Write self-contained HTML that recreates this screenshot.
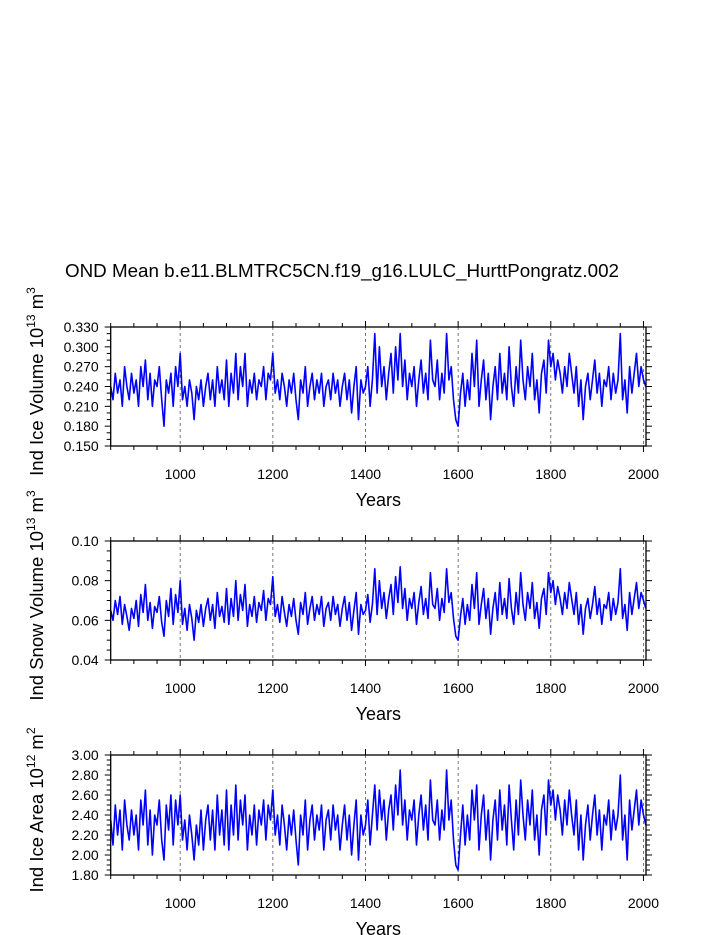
<!DOCTYPE html>
<html><head><meta charset="utf-8">
<style>
html,body{margin:0;padding:0;background:#fff;}
svg{display:block;font-family:"Liberation Sans",sans-serif;}
</style></head>
<body>
<svg id="chart" width="723" height="935" viewBox="0 0 723 935" xmlns="http://www.w3.org/2000/svg">
<text x="342" y="277" font-size="18.8" text-anchor="middle">OND Mean b.e11.BLMTRC5CN.f19_g16.LULC_HurttPongratz.002</text>
</svg>
<script>
const startYear = 850;
const stepYears = 5;
const xTickLabels = [1000, 1200, 1400, 1600, 1800, 2000];
const iceVolume = [.24,.22,.26,.23,.25,.21,.27,.24,.22,.26,
.23,.25,.21,.27,.24,.28,.22,.26,.21,.25,
.24,.27,.22,.18,.25,.23,.26,.21,.27,.24,
.29,.22,.24,.21,.25,.23,.19,.24,.22,.25,
.21,.24,.26,.22,.25,.21,.27,.23,.25,.22,
.28,.21,.26,.23,.29,.22,.27,.24,.29,.21,
.25,.23,.26,.22,.25,.24,.27,.22,.26,.25,
.29,.23,.25,.22,.26,.24,.21,.25,.23,.26,
.22,.19,.25,.23,.27,.21,.24,.26,.22,.25,
.23,.26,.21,.24,.25,.22,.26,.23,.25,.21,
.24,.26,.22,.25,.20,.24,.27,.19,.25,.23,
.24,.27,.21,.25,.32,.23,.30,.24,.27,.22,
.26,.29,.23,.30,.25,.32,.24,.28,.22,.26,
.24,.27,.21,.25,.28,.23,.26,.22,.31,.25,
.24,.28,.22,.26,.23,.32,.25,.27,.22,.19,
.18,.23,.26,.21,.25,.22,.29,.24,.31,.21,
.25,.28,.22,.26,.19,.24,.27,.22,.29,.23,
.26,.22,.30,.24,.21,.27,.23,.31,.25,.22,
.27,.24,.29,.22,.25,.20,.26,.28,.23,.31,
.27,.29,.25,.28,.26,.23,.27,.24,.29,.26,
.23,.27,.21,.25,.19,.24,.26,.22,.25,.28,
.23,.26,.21,.25,.24,.27,.22,.26,.23,.25,
.32,.22,.25,.20,.27,.23,.26,.29,.24,.27,
.25,.24];
const snowVolume = [.065,.060,.070,.063,.072,.058,.068,.062,.055,.066,
.061,.070,.057,.073,.064,.078,.060,.069,.056,.067,
.064,.072,.059,.052,.070,.062,.076,.058,.073,.064,
.080,.058,.066,.055,.068,.061,.050,.065,.059,.068,
.057,.066,.071,.060,.068,.056,.074,.062,.067,.059,
.076,.058,.071,.062,.080,.060,.073,.065,.078,.057,
.068,.062,.072,.059,.069,.065,.075,.060,.071,.068,
.082,.062,.068,.059,.072,.064,.057,.068,.062,.071,
.060,.053,.069,.063,.074,.058,.066,.072,.060,.068,
.063,.072,.057,.066,.069,.060,.072,.063,.068,.057,
.066,.072,.060,.069,.055,.065,.074,.053,.068,.063,
.065,.073,.059,.068,.086,.063,.080,.066,.074,.061,
.071,.078,.063,.082,.069,.087,.066,.076,.060,.071,
.066,.074,.058,.069,.077,.063,.071,.061,.084,.068,
.066,.076,.060,.071,.064,.086,.069,.074,.061,.052,
.050,.062,.071,.058,.068,.060,.078,.066,.084,.058,
.068,.076,.061,.071,.053,.066,.074,.060,.079,.063,
.071,.061,.081,.066,.058,.074,.063,.084,.068,.060,
.074,.066,.079,.061,.069,.056,.071,.076,.063,.084,
.074,.080,.068,.077,.071,.063,.074,.066,.079,.071,
.063,.074,.058,.068,.053,.066,.071,.061,.068,.077,
.063,.071,.058,.068,.066,.074,.060,.071,.063,.069,
.086,.061,.068,.055,.074,.063,.071,.079,.066,.074,
.070,.066];
const iceArea = [2.35,2.10,2.50,2.20,2.45,2.05,2.55,2.30,2.15,2.45,
2.20,2.40,2.05,2.55,2.30,2.65,2.10,2.45,2.00,2.40,
2.30,2.55,2.15,1.95,2.50,2.25,2.60,2.10,2.55,2.30,
2.60,2.15,2.35,2.05,2.40,2.20,1.95,2.30,2.10,2.45,
2.05,2.35,2.50,2.15,2.45,2.05,2.60,2.20,2.45,2.10,
2.65,2.05,2.50,2.20,2.70,2.15,2.55,2.30,2.60,2.05,
2.40,2.20,2.50,2.10,2.45,2.30,2.55,2.15,2.50,2.35,
2.65,2.20,2.40,2.10,2.50,2.30,2.05,2.40,2.20,2.45,
2.15,1.90,2.40,2.20,2.55,2.05,2.35,2.50,2.15,2.40,
2.25,2.50,2.05,2.35,2.45,2.15,2.50,2.25,2.40,2.05,
2.30,2.50,2.15,2.40,2.00,2.30,2.55,1.95,2.40,2.20,
2.30,2.55,2.10,2.40,2.70,2.25,2.65,2.35,2.55,2.15,
2.45,2.60,2.25,2.70,2.40,2.85,2.30,2.55,2.15,2.45,
2.35,2.55,2.10,2.40,2.60,2.25,2.50,2.15,2.75,2.35,
2.30,2.55,2.15,2.45,2.25,2.85,2.35,2.55,2.15,1.90,
1.85,2.20,2.50,2.10,2.40,2.15,2.65,2.35,2.70,2.05,
2.40,2.60,2.15,2.45,1.95,2.35,2.55,2.15,2.65,2.25,
2.50,2.10,2.70,2.35,2.05,2.55,2.20,2.75,2.40,2.15,
2.55,2.30,2.65,2.15,2.40,2.00,2.45,2.60,2.20,2.75,
2.50,2.65,2.35,2.60,2.45,2.20,2.55,2.30,2.65,2.40,
2.20,2.55,2.05,2.40,1.95,2.30,2.50,2.15,2.40,2.60,
2.20,2.45,2.05,2.40,2.30,2.55,2.15,2.45,2.25,2.40,
2.80,2.15,2.40,1.95,2.55,2.25,2.45,2.65,2.30,2.55,
2.40,2.30];
const iceVolumeTicks = ["0.150","0.180","0.210","0.240","0.270","0.300","0.330"];
const snowVolumeTicks = ["0.04","0.06","0.08","0.10"];
const iceAreaTicks = ["1.80","2.00","2.20","2.40","2.60","2.80","3.00"];

const NS = "http://www.w3.org/2000/svg";
const svg = document.getElementById("chart");
const X0 = 110.7, X1 = 646, YMIN = 850, YMAX = 2005.5;
function xScale(yr){ return X0 + (yr - YMIN) / (YMAX - YMIN) * (X1 - X0); }
function mk(tag, attrs, parent){
  const e = document.createElementNS(NS, tag);
  for (const k in attrs) e.setAttribute(k, attrs[k]);
  (parent || svg).appendChild(e);
  return e;
}

function panel(cfg){
  const g = mk("g", {});
  
  
  const top = cfg.top, bot = cfg.bot;
  const vmin = parseFloat(cfg.ticks[0]), vmax = parseFloat(cfg.ticks[cfg.ticks.length-1]);
  const yScale = v => bot - (v - vmin) / (vmax - vmin) * (bot - top);
  xTickLabels.forEach(yr => {
    const l = mk("line", {x1:xScale(yr), x2:xScale(yr), y1:top, y2:bot, stroke:"#555", "stroke-width":0.8, "stroke-dasharray":"3,3"}, g);
    
    
  });
  for (let yr = 850; yr <= 2000; yr += 50) {
    const major = yr % 200 === 0;
    const len = major ? 6 : 4;
    const x = xScale(yr);
    mk("line", {x1:x, x2:x, y1:bot, y2:bot+len, stroke:"#000", "stroke-width":1}, g);
    mk("line", {x1:x, x2:x, y1:top, y2:top-len, stroke:"#000", "stroke-width":1}, g);
  }
  xTickLabels.forEach(yr => {
    const t = mk("text", {x:xScale(yr), y:bot+33, "font-size":14, "text-anchor":"middle"}, g);
    t.textContent = yr;
    
    
  });
  const minorStep = (vmax - vmin) / ((cfg.ticks.length - 1) * cfg.minorPer);
  for (let i = 0; i <= (cfg.ticks.length - 1) * cfg.minorPer; i++) {
    const v = vmin + i * minorStep, y = yScale(v);
    const len = i % cfg.minorPer === 0 ? 6 : 4;
    mk("line", {x1:X0, x2:X0-len, y1:y, y2:y, stroke:"#000", "stroke-width":1}, g);
    mk("line", {x1:X1, x2:X1+len, y1:y, y2:y, stroke:"#000", "stroke-width":1}, g);
  }
  cfg.ticks.forEach(s => {
    const t = mk("text", {x:X0-12, y:yScale(parseFloat(s))+5, "font-size":14, "text-anchor":"end"}, g);
    t.textContent = s;
    
    
  });
  const pts = cfg.data.map((v, i) => xScale(startYear + i * stepYears).toFixed(1) + "," + yScale(v).toFixed(1)).join(" ");
  const line = mk("polyline", {points:pts, fill:"none", stroke:"#0000ff", "stroke-width":1.6, "stroke-linejoin":"round"}, g);
  
  
  const r = mk("rect", {x:X0, y:top, width:X1-X0, height:bot-top, fill:"none", stroke:"#000", "stroke-width":1.3}, g);
  
  
  const xt = mk("text", {x:(X0+X1)/2, y:bot+60, "font-size":18, "text-anchor":"middle"}, g);
  xt.textContent = "Years";
  
  
  const cy = (top + bot) / 2 - 5;
  const yt = mk("text", {x:0, y:0, "font-size":18.5, "text-anchor":"middle", transform:"translate(43," + cy + ") rotate(-90)"}, g);
  
  
  const a = document.createElementNS(NS, "tspan"); a.textContent = cfg.label + " 10"; yt.appendChild(a);
  const b = document.createElementNS(NS, "tspan"); b.setAttribute("dy", "-8"); b.setAttribute("font-size", "12"); b.textContent = cfg.exp; yt.appendChild(b);
  const c = document.createElementNS(NS, "tspan"); c.setAttribute("dy", "8"); c.textContent = " m"; yt.appendChild(c);
  const d = document.createElementNS(NS, "tspan"); d.setAttribute("dy", "-8"); d.setAttribute("font-size", "12"); d.textContent = cfg.unitExp; yt.appendChild(d);
}

panel({name:"ice-volume-panel", top:327, bot:446, ticks:iceVolumeTicks, minorPer:3, data:iceVolume, label:"Ind Ice Volume", exp:"13", unitExp:"3"});
panel({name:"snow-volume-panel", top:541, bot:660, ticks:snowVolumeTicks, minorPer:4, data:snowVolume, label:"Ind Snow Volume", exp:"13", unitExp:"3"});
panel({name:"ice-area-panel", top:755, bot:875, ticks:iceAreaTicks, minorPer:4, data:iceArea, label:"Ind Ice Area", exp:"12", unitExp:"2"});
</script>
</body></html>
